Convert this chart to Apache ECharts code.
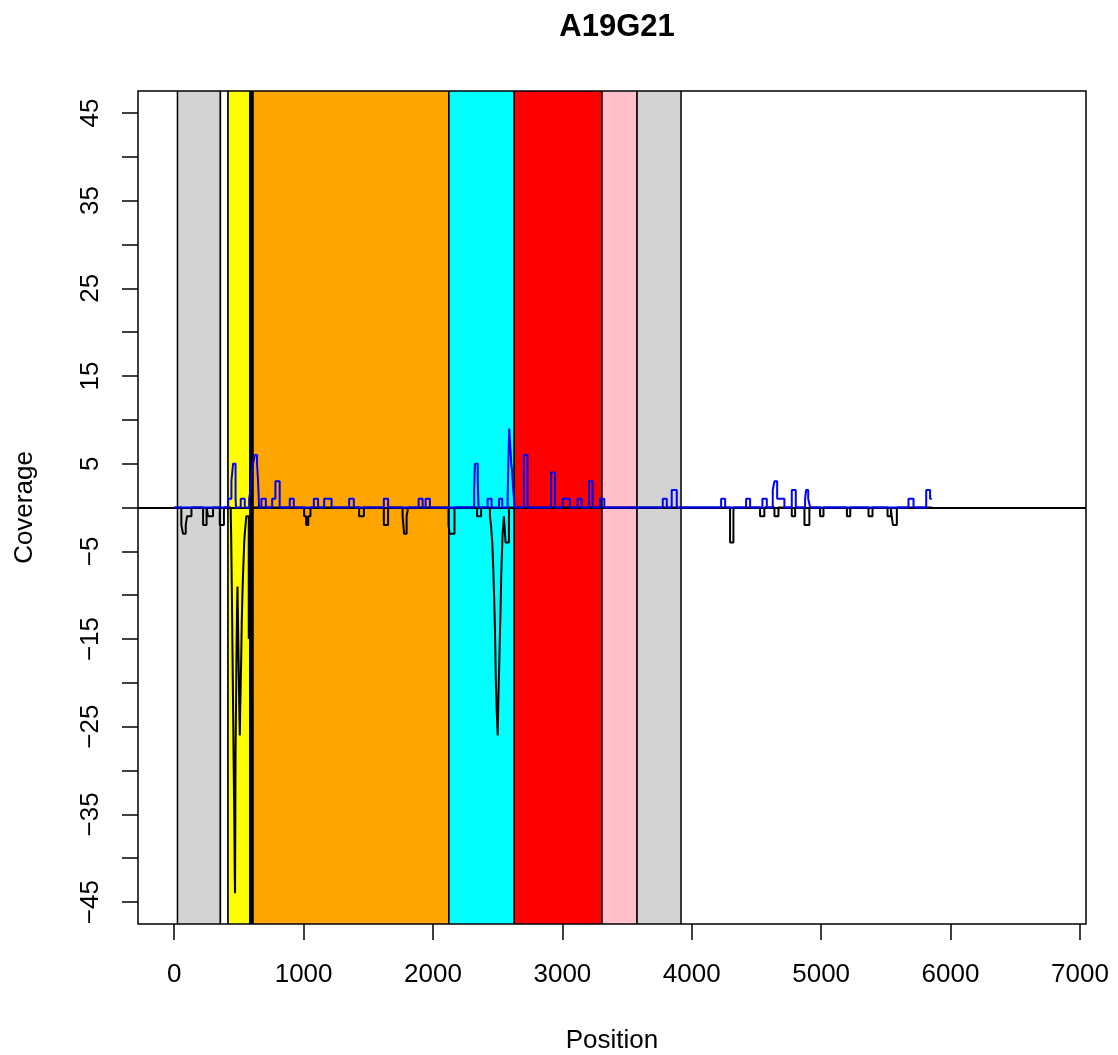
<!DOCTYPE html>
<html>
<head>
<meta charset="utf-8">
<script src="https://cdn.jsdelivr.net/npm/echarts@6/dist/echarts.min.js"></script>
<style>
  html, body { margin: 0; padding: 0; background: #fff; }
  #chart { width: 1118px; height: 1055px; }
</style>
</head>
<body>
<div id="chart"></div>
<script>
// annotated regions along the genome (start / end position)
var regionStart = [25, 357, 416, 584, 609, 2123, 2628, 3306, 3577];
var regionEnd   = [357, 416, 584, 609, 2123, 2628, 3306, 3577, 3917];
var regionColor = ['#d3d3d3', '#ffffff', '#ffff00', '#000000', '#ffa500', '#00ffff', '#ff0000', '#ffc0cb', '#d3d3d3'];

// plus strand coverage (step: value holds until next position)
var plusPos = [1, 417, 442, 455, 474, 478, 514, 545, 579, 590, 597, 610, 623, 640, 648, 656,
  674, 708, 757, 782, 815, 893, 924, 1079, 1112, 1159, 1216, 1352, 1388, 1620, 1653,
  1889, 1920, 1943, 1976, 2318, 2324, 2346, 2352, 2422, 2453, 2510, 2535,
  2577, 2582, 2589, 2597, 2605, 2612, 2620, 2633, 2703, 2731, 2912, 2943,
  3002, 3059, 3118, 3149, 3206, 3234, 3291, 3324, 3776, 3807, 3845, 3884,
  4227, 4258, 4420, 4451, 4546, 4580, 4626, 4639, 4660, 4716, 4773, 4804,
  4876, 4884, 4900, 4915, 5675, 5714, 5812, 5842, 5855];
var plusCov = [0, 1, 3, 5, 1, 0, 1, 0, 1, 2, 4, 5, 6, 5, 3, 0,
  1, 0, 1, 3, 0, 1, 0, 1, 0, 1, 0, 1, 0, 1, 0,
  1, 0, 1, 0, 2, 5, 3, 0, 1, 0, 1, 0,
  1, 5, 9, 7, 5, 4, 2, 0, 6, 0, 4, 0,
  1, 0, 1, 0, 3, 0, 1, 0, 1, 0, 2, 0,
  1, 0, 1, 0, 1, 0, 2, 3, 1, 0, 2, 0,
  1, 2, 1, 0, 1, 0, 2, 1, 1];

// minus strand coverage (negative values)
var minusPos = [1, 55, 68, 89, 99, 133, 223, 250, 261, 300, 352, 384,
  437, 440, 445, 450, 455, 460, 465, 468, 470, 472, 474, 478, 482, 486, 489, 492, 495,
  498, 501, 504, 507, 510, 514, 518, 522, 527, 531, 536, 541, 545, 551, 557, 576, 582, 586, 590,
  1004, 1020, 1036, 1053, 1429, 1466, 1620, 1653, 1765, 1777, 1796, 1808,
  2120, 2128, 2166, 2340, 2372,
  2440, 2448, 2458, 2466, 2472, 2479, 2486, 2492, 2500, 2504, 2508, 2512, 2518, 2523,
  2527, 2531, 2538, 2548, 2561, 2587,
  4296, 4322, 4528, 4561, 4639, 4670, 4773, 4799, 4871, 4909, 4992, 5018,
  5199, 5225, 5366, 5397, 5513, 5539, 5545, 5555, 5585, 5855];
var minusCov = [0, -2, -3, -2, -1, 0, -2, 0, -1, 0, -2, 0,
  -1, -3, -9, -16, -23, -30, -37, -42, -44, -36, -28, -22, -16, -11, -9, -12, -15,
  -18, -21, -24, -26, -23, -20, -17, -13, -10, -8, -6, -4, -3, -2, -1, -15, -10, -4, 0,
  -1, -2, -1, 0, -1, 0, -2, 0, -1, -3, -1, 0,
  -2, -3, 0, -1, 0,
  -1, -2, -4, -7, -10, -14, -20, -23, -26, -23, -20, -18, -14, -11,
  -8, -6, -3, -1, -4, 0,
  -4, 0, -1, 0, -1, 0, -1, 0, -2, 0, -1, 0,
  -1, 0, -1, 0, -1, 0, -1, -2, 0, 0];

var xTicks = [0, 1000, 2000, 3000, 4000, 5000, 6000, 7000];
var yTicks = [-45, -40, -35, -30, -25, -20, -15, -10, -5, 0, 5, 10, 15, 20, 25, 30, 35, 40, 45];
var yLabels = [-45, -35, -25, -15, -5, 5, 15, 25, 35, 45];

var font = 'Liberation Sans, Arial, Helvetica, sans-serif';

var regions = regionStart.map(function (s, i) { return [s, regionEnd[i], i]; });
var plusData = plusPos.map(function (p, i) { return [p, plusCov[i]]; });
var minusData = minusPos.map(function (p, i) { return [p, minusCov[i]]; });

var chart = echarts.init(document.getElementById('chart'), null, { renderer: 'canvas' });

var option = {
  animation: false,
  backgroundColor: '#fff',
  title: {
    text: 'A19G21',
    left: 612,
    top: 7,
    textAlign: 'center',
    textStyle: { fontFamily: font, fontSize: 31, fontWeight: 'bold', color: '#000' }
  },
  grid: {
    left: 138, right: 32, top: 91, bottom: 131,
    outerBoundsMode: 'none',
    containLabel: false,
    show: true, borderColor: '#000', borderWidth: 1.5, backgroundColor: '#fff'
  },
  xAxis: {
    type: 'value',
    min: -280, max: 7047,
    name: 'Position',
    nameLocation: 'middle',
    nameGap: 104,
    nameTextStyle: { fontFamily: font, fontSize: 26, color: '#000' },
    axisLine: { show: false, onZero: false },
    splitLine: { show: false },
    axisTick: { show: true, length: 16, customValues: xTicks, lineStyle: { color: '#000', width: 1.5 } },
    axisLabel: {
      customValues: xTicks, margin: 38, fontFamily: font, fontSize: 26, color: '#000',
      formatter: function (v) { return String(v); }
    }
  },
  yAxis: {
    type: 'value',
    min: -47.5, max: 47.5,
    name: 'Coverage',
    nameLocation: 'middle',
    nameGap: 100,
    nameTextStyle: { fontFamily: font, fontSize: 26, color: '#000' },
    axisLine: { show: false, onZero: false },
    splitLine: { show: false },
    axisTick: { show: true, length: 16, customValues: yTicks, lineStyle: { color: '#000', width: 1.5 } },
    axisLabel: {
      customValues: yLabels, rotate: 90, margin: 34,
      fontFamily: font, fontSize: 26, color: '#000',
      formatter: function (v) { return v < 0 ? '\u2212' + Math.abs(v) : String(v); }
    }
  },
  series: [
    {
      type: 'custom',
      data: regions,
      clip: true,
      z: 1,
      renderItem: function (params, api) {
        var cs = params.coordSys;
        var x0 = api.coord([api.value(0), 0])[0];
        var x1 = api.coord([api.value(1), 0])[0];
        return {
          type: 'rect',
          shape: { x: x0, y: cs.y, width: x1 - x0, height: cs.height },
          style: { fill: regionColor[api.value(2)], stroke: '#000', lineWidth: 1.5 }
        };
      }
    },
    {
      type: 'line',
      data: [],
      z: 3,
      markLine: {
        silent: true,
        symbol: 'none',
        label: { show: false },
        lineStyle: { color: '#000', width: 2, type: 'solid' },
        data: [{ yAxis: 0 }]
      }
    },
    {
      type: 'line',
      data: minusData,
      step: 'end',
      showSymbol: false,
      z: 4,
      lineStyle: { color: '#000', width: 2 }
    },
    {
      type: 'line',
      data: plusData,
      step: 'end',
      showSymbol: false,
      z: 5,
      lineStyle: { color: '#0000ff', width: 2 }
    }
  ]
};

chart.setOption(option);
</script>
</body>
</html>
